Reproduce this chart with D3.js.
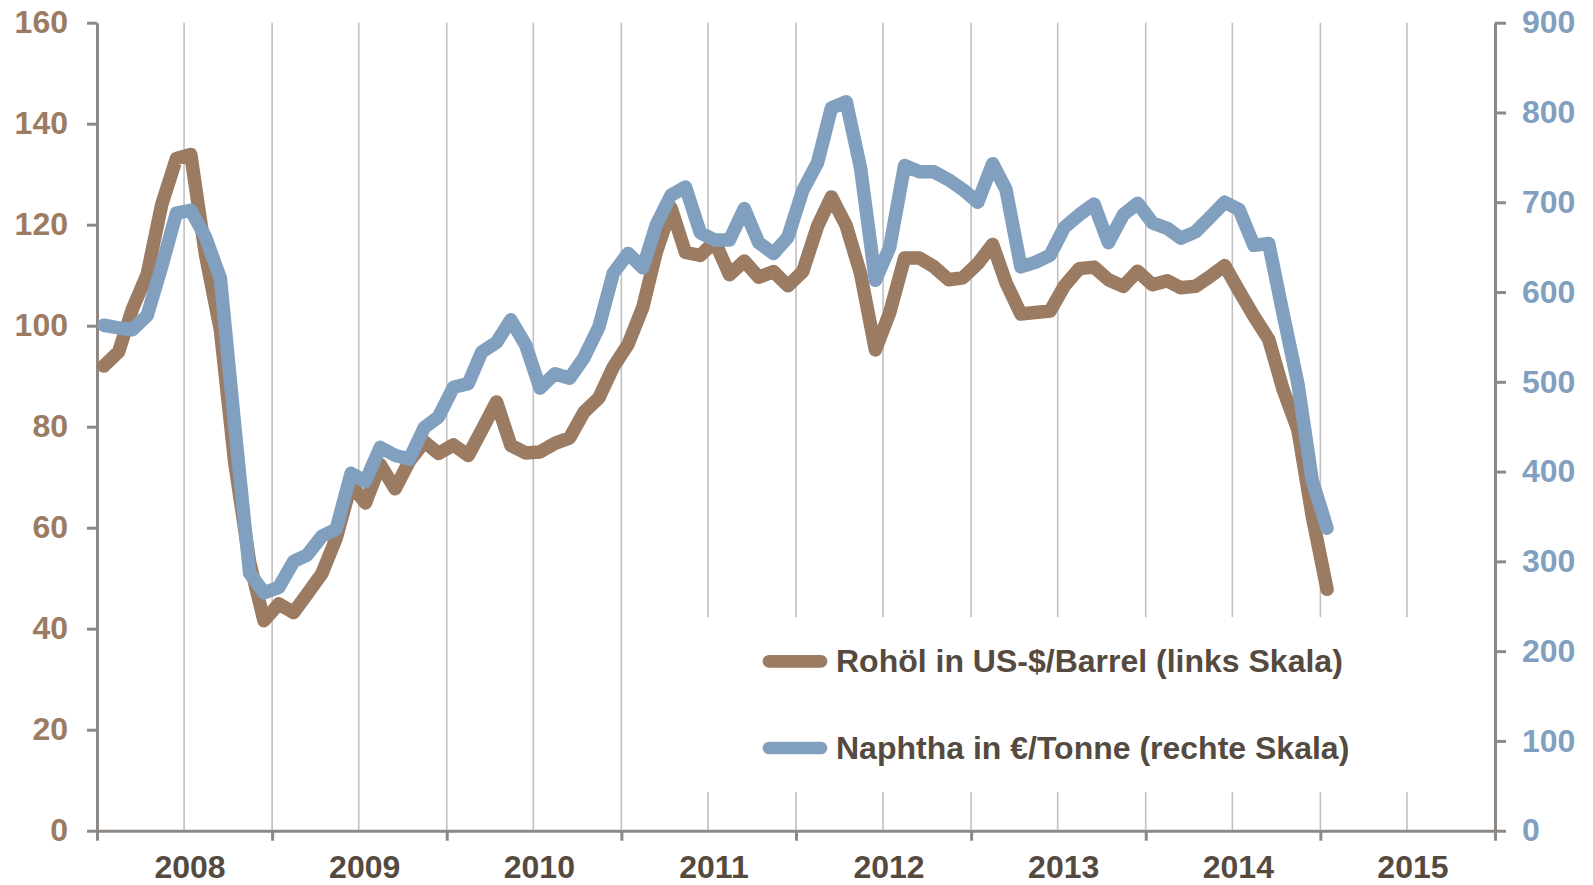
<!DOCTYPE html>
<html>
<head>
<meta charset="utf-8">
<script src="https://cdn.jsdelivr.net/npm/d3@7"></script>
<style>
    body { margin: 0; background: #fff; }
    #chart-area svg { display: block; font-family: "Liberation Sans", Arial, sans-serif; font-weight: bold; }
</style>
</head>
<body>
<div id="chart-area"></div>
<script>
// monthly values, Jan 2008 - Jan 2015
var firstMonth = "2008-01-15";
var yearLabels = ["2008", "2009", "2010", "2011", "2012", "2013", "2014", "2015"];
var leftTicks = [0, 20, 40, 60, 80, 100, 120, 140, 160];
var rightTicks = [0, 100, 200, 300, 400, 500, 600, 700, 800, 900];
var seriesNames = ["Rohöl in US-$/Barrel (links Skala)", "Naphtha in €/Tonne (rechte Skala)"];

var crudeOil = [
    92.0, 94.8, 103.3, 110.2, 123.9, 133.1, 133.9, 113.9, 99.1, 72.8, 53.2, 41.6,
    44.9, 43.2, 46.8, 50.9, 57.9, 68.6, 64.9, 72.5, 67.7, 73.2, 77.0, 74.7,
    76.4, 74.3, 79.3, 84.9, 76.3, 74.8, 75.0, 76.7, 77.8, 82.9, 85.7, 91.8,
    96.3, 103.7, 114.6, 123.3, 114.5, 113.9, 116.7, 110.1, 112.8, 109.6, 110.7, 107.9,
    110.7, 119.7, 125.5, 119.8, 110.3, 95.2, 102.6, 113.4, 113.4, 111.7, 109.1, 109.5,
    112.3, 116.1, 108.5, 102.3, 102.6, 102.9, 107.9, 111.3, 111.6, 109.1, 107.8, 110.8,
    108.1, 108.9, 107.5, 107.8, 109.7, 111.9, 106.9, 101.9, 97.3, 87.4, 79.4, 62.3,
    47.8
];

var naphtha = [
    563, 560, 558, 574, 628, 688, 691, 661, 615, 450, 287, 265,
    271, 300, 307, 328, 336, 398, 389, 427, 418, 414, 449, 461,
    494, 498, 533, 544, 569, 541, 493, 509, 504, 527, 561, 621,
    643, 627, 675, 708, 717, 666, 658, 658, 693, 655, 643, 661,
    713, 744, 805, 812, 738, 613, 650, 741, 734, 734, 725, 714,
    700, 743, 714, 628, 633, 641, 672, 686, 698, 655, 686, 699,
    677, 671, 660, 667, 683, 700, 692, 652, 654, 576, 498, 390,
    337
];

var colors = ["#9b7b62", "#819fbf"];


PriceChart = function(_parentElement, _data) {
    this.parentElement = _parentElement;
    this.data = _data;

    this.initVis();
};

PriceChart.prototype.initVis = function() {
    var vis = this;

    vis.margin = { top: 22.7, right: 98, bottom: 54.3, left: 97 };
    vis.width = 1593 - vis.margin.left - vis.margin.right;
    vis.height = 885 - vis.margin.top - vis.margin.bottom;

    vis.svg = d3.select("#" + vis.parentElement)
        .append("svg")
        .attr("width", vis.width + vis.margin.left + vis.margin.right)
        .attr("height", vis.height + vis.margin.top + vis.margin.bottom)
        .append("g")
        .attr("transform", "translate(" + vis.margin.left + "," + vis.margin.top + ")");

    vis.start = new Date(+yearLabels[0], 0, 1);
    vis.end = new Date(+yearLabels[yearLabels.length - 1] + 1, 0, 1);

    vis.xScale = d3.scaleTime()
        .domain([vis.start, vis.end])
        .range([0, vis.width]);

    vis.yLeft = d3.scaleLinear()
        .domain([0, 160])
        .range([vis.height, 0]);

    vis.yRight = d3.scaleLinear()
        .domain([0, 900])
        .range([vis.height, 0]);

    vis.wrangleData();
};

PriceChart.prototype.wrangleData = function() {
    var vis = this;

    var first = d3.timeParse("%Y-%m-%d")(firstMonth);
    vis.displayData = vis.data.map(function(s) {
        return {
            name: s.name,
            color: s.color,
            scale: s.axis === "left" ? vis.yLeft : vis.yRight,
            values: s.values.map(function(v, i) {
                return { date: d3.timeMonth.offset(first, i), value: v };
            })
        };
    });

    vis.updateVis();
};

PriceChart.prototype.updateVis = function() {
    var vis = this;

    // half-year grid
    var gridDates = d3.timeMonth.every(6).range(d3.timeMonth.offset(vis.start, 6), vis.end);
    vis.svg.append("g")
        .attr("class", "grid")
        .selectAll("line")
        .data(gridDates)
        .enter().append("line")
        .attr("x1", function(d) { return vis.xScale(d); })
        .attr("x2", function(d) { return vis.xScale(d); })
        .attr("y1", 0)
        .attr("y2", vis.height)
        .attr("stroke", "#c0c0c0")
        .attr("stroke-width", 1.6);

    // legend box hides the grid below it
    vis.svg.append("rect")
        .attr("x", 590)
        .attr("y", 594.5)
        .attr("width", 800)
        .attr("height", 175)
        .attr("fill", "#fff");

    // axes
    var axisColor = "#8d8884";

    vis.svg.append("g")
        .attr("class", "x-axis axis")
        .attr("transform", "translate(0," + vis.height + ")")
        .call(d3.axisBottom(vis.xScale)
            .tickValues(d3.timeYear.range(vis.start, d3.timeDay.offset(vis.end, 1)))
            .tickSize(10)
            .tickSizeOuter(0)
            .tickFormat(""));

    vis.svg.append("g")
        .attr("class", "y-axis axis left")
        .call(d3.axisLeft(vis.yLeft)
            .tickValues(leftTicks)
            .tickSize(10)
            .tickSizeOuter(0)
            .tickPadding(19));

    vis.svg.append("g")
        .attr("class", "y-axis axis right")
        .attr("transform", "translate(" + vis.width + ",0)")
        .call(d3.axisRight(vis.yRight)
            .tickValues(rightTicks)
            .tickSize(11)
            .tickSizeOuter(0)
            .tickPadding(16));

    vis.svg.selectAll(".axis path, .axis line")
        .attr("stroke", axisColor)
        .attr("stroke-width", 3);

    vis.svg.selectAll(".axis text")
        .attr("font-family", null)
        .attr("font-size", 32);
    vis.svg.selectAll(".left text").attr("fill", colors[0]);
    vis.svg.selectAll(".right text").attr("fill", colors[1]);

    vis.svg.append("g")
        .attr("class", "year-labels")
        .selectAll("text")
        .data(yearLabels)
        .enter().append("text")
        .attr("x", function(d) { return vis.xScale(new Date(+d, 6, 1)) + 6; })
        .attr("y", vis.height + 47.3)
        .attr("text-anchor", "middle")
        .attr("font-size", 32)
        .attr("fill", "#554a40")
        .text(function(d) { return d; });

    // lines
    vis.svg.selectAll(".series")
        .data(vis.displayData)
        .enter().append("path")
        .attr("class", "series")
        .attr("fill", "none")
        .attr("stroke", function(d) { return d.color; })
        .attr("stroke-width", 13.5)
        .attr("stroke-linejoin", "round")
        .attr("stroke-linecap", "round")
        .attr("d", function(s) {
            return d3.line()
                .x(function(d) { return vis.xScale(d.date); })
                .y(function(d) { return s.scale(d.value); })(s.values);
        });

    // legend
    var legend = vis.svg.selectAll(".legend-item")
        .data(vis.displayData)
        .enter().append("g")
        .attr("class", "legend-item")
        .attr("transform", function(d, i) { return "translate(672," + (638.6 + i * 86.7) + ")"; });

    legend.append("line")
        .attr("x1", 0)
        .attr("x2", 52)
        .attr("stroke", function(d) { return d.color; })
        .attr("stroke-width", 12.7)
        .attr("stroke-linecap", "round");

    legend.append("text")
        .attr("x", 67)
        .attr("y", 11)
        .attr("font-size", 32)
        .attr("fill", "#554a40")
        .text(function(d) { return d.name; });
};

var priceChart = new PriceChart("chart-area", [
    { name: seriesNames[0], values: crudeOil, axis: "left", color: colors[0] },
    { name: seriesNames[1], values: naphtha, axis: "right", color: colors[1] }
]);
</script>
</body>
</html>
